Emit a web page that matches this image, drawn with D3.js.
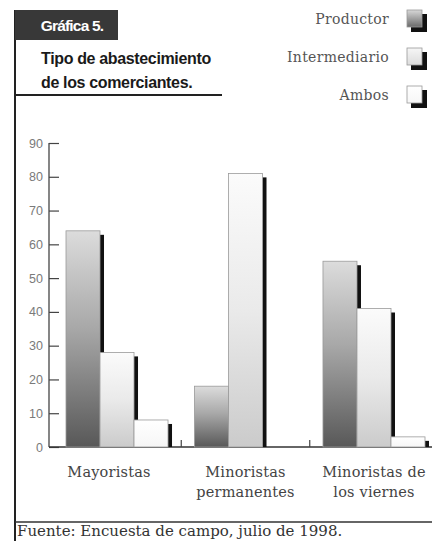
<!DOCTYPE html>
<html>
<head>
<meta charset="utf-8">
<script src="https://cdn.jsdelivr.net/npm/d3@7"></script>
<style>
  html, body { margin: 0; padding: 0; background: #fff; overflow: hidden; }
  svg { display: block; }
</style>
</head>
<body>
<script>
// Tipo de abastecimiento de los comerciantes (porcentaje)
const categories = ["Mayoristas", "Minoristas permanentes", "Minoristas de los viernes"];
const categoryLines = [["Mayoristas"], ["Minoristas", "permanentes"], ["Minoristas de", "los viernes"]];
const seriesNames = ["Productor", "Intermediario", "Ambos"];
const productor = [64, 18, 55];
const intermediario = [28, 81, 41];
const ambos = [8, 0, 3];
const yTicks = [0, 10, 20, 30, 40, 50, 60, 70, 80, 90];

const W = 432, H = 541;
const serif = "DejaVu Serif, Liberation Serif, serif";
const sans = "Liberation Sans, Arial, sans-serif";
const svg = d3.select("body").append("svg").attr("width", W).attr("height", H);

// gradients for the bar fills
const defs = svg.append("defs");
function grad(id, stops) {
  const g = defs.append("linearGradient").attr("id", id)
    .attr("x1", 0).attr("y1", 0).attr("x2", 0).attr("y2", 1);
  stops.forEach(s => g.append("stop").attr("offset", s[0]).attr("stop-color", s[1]));
}
grad("gProd", [[0, "#dcdcdc"], [0.45, "#a8a8a8"], [1, "#585858"]]);
grad("gInter", [[0, "#fbfbfb"], [0.5, "#eaeaea"], [1, "#cbcbcb"]]);
grad("gAmbos", [[0, "#ffffff"], [1, "#f6f6f6"]]);
grad("gLegProd", [[0, "#d8d8d8"], [1, "#6a6a6a"]]);
grad("gLegInter", [[0, "#f6f6f6"], [1, "#dcdcdc"]]);
const fills = ["url(#gProd)", "url(#gInter)", "url(#gAmbos)"];
const legFills = ["url(#gLegProd)", "url(#gLegInter)", "url(#gAmbos)"];

// frame lines
svg.append("line").attr("x1", 15).attr("x2", 15).attr("y1", 10).attr("y2", H)
  .attr("stroke", "#222").attr("stroke-width", 2);
svg.append("line").attr("x1", 15).attr("x2", 222).attr("y1", 95).attr("y2", 95)
  .attr("stroke", "#222").attr("stroke-width", 2);
svg.append("line").attr("x1", 15).attr("x2", W).attr("y1", 522).attr("y2", 522)
  .attr("stroke", "#333").attr("stroke-width", 1.5);

// title block
svg.append("rect").attr("x", 15).attr("y", 10).attr("width", 103).attr("height", 30)
  .attr("fill", "#383838");
svg.append("text").attr("x", 72).attr("y", 31).attr("text-anchor", "middle")
  .attr("font-family", sans).attr("font-weight", "bold")
  .attr("font-size", 15.5).attr("letter-spacing", -0.8).attr("fill", "#fff")
  .text("Gráfica 5.");
svg.append("text").attr("x", 41).attr("y", 64)
  .attr("font-family", sans).attr("font-weight", "bold")
  .attr("font-size", 16).attr("letter-spacing", -0.35).attr("fill", "#1a1a1a")
  .text("Tipo de abastecimiento");
svg.append("text").attr("x", 41).attr("y", 88)
  .attr("font-family", sans).attr("font-weight", "bold")
  .attr("font-size", 16).attr("letter-spacing", -0.35).attr("fill", "#1a1a1a")
  .text("de los comerciantes.");

// legend
const legY = [10, 48, 86];
seriesNames.forEach((name, i) => {
  const g = svg.append("g").attr("transform", `translate(0,${legY[i]})`);
  g.append("text").attr("x", 389).attr("y", 14).attr("text-anchor", "end")
    .attr("font-family", serif).attr("font-size", 14).attr("letter-spacing", 0.3)
    .attr("fill", "#555").text(name);
  g.append("rect").attr("x", 411).attr("y", 4).attr("width", 16).attr("height", 18).attr("fill", "#111");
  g.append("rect").attr("x", 407).attr("y", 0).attr("width", 15).attr("height", 17)
    .attr("fill", legFills[i]).attr("stroke", "#999").attr("stroke-width", 0.8);
});

// scales
const y = d3.scaleLinear().domain([0, 90]).range([447, 143]);
const x0 = d3.scaleBand().domain(categories).range([66, 425]).paddingInner(0.206).paddingOuter(0);
const x1 = d3.scaleBand().domain(seriesNames).range([0, x0.bandwidth()]);

// axis
const axis = d3.axisLeft(y).tickValues(yTicks).tickSize(-10).tickPadding(6);
const ag = svg.append("g").attr("transform", "translate(49,0)").call(axis);
ag.select(".domain").remove();
ag.selectAll(".tick line").attr("stroke", "#444").attr("stroke-width", 1.2);
ag.selectAll(".tick text").attr("font-family", sans)
  .attr("font-size", 12.5).attr("fill", "#7a7a7a").attr("x", -6);
svg.append("line").attr("x1", 49).attr("x2", 49).attr("y1", y(90)).attr("y2", y(0))
  .attr("stroke", "#444").attr("stroke-width", 1.3);
svg.append("line").attr("x1", 49).attr("x2", 432).attr("y1", y(0)).attr("y2", y(0))
  .attr("stroke", "#333").attr("stroke-width", 1.5);

// bars
const data = categories.map((c, i) => ({
  cat: c,
  vals: [productor[i], intermediario[i], ambos[i]]
}));
const groups = svg.selectAll(".grp").data(data).enter().append("g")
  .attr("transform", d => `translate(${x0(d.cat)},0)`);

groups.each(function(d) {
  const g = d3.select(this);
  d.vals.forEach((v, j) => {
    if (v <= 0) return;
    const bx = x1(seriesNames[j]);
    const bw = x1.bandwidth();
    // drop shadow on the right edge
    g.append("rect").attr("x", bx + bw).attr("y", y(v) + 4)
      .attr("width", 4).attr("height", y(0) - y(v) - 4).attr("fill", "#111");
    g.append("rect").attr("x", bx).attr("y", y(v))
      .attr("width", bw).attr("height", y(0) - y(v))
      .attr("fill", fills[j]).attr("stroke", "#9a9a9a").attr("stroke-width", 0.8);
  });
});

// small separator ticks between groups
categories.slice(0, -1).forEach((c, i) => {
  const xs = (x0(c) + x0.bandwidth() + x0(categories[i + 1])) / 2;
  svg.append("line").attr("x1", xs).attr("x2", xs).attr("y1", y(0)).attr("y2", y(0) - 7)
    .attr("stroke", "#444").attr("stroke-width", 1.2);
});

// category labels
categories.forEach((c, i) => {
  const cx = x0(c) + x0.bandwidth() / 2 - (i === 0 ? 8 : 0);
  categoryLines[i].forEach((line, k) => {
    svg.append("text").attr("x", cx).attr("y", 477 + k * 20).attr("text-anchor", "middle")
      .attr("font-family", serif).attr("font-size", 14.5).attr("fill", "#444")
      .attr("letter-spacing", 0.2).text(line);
  });
});

// source note
svg.append("text").attr("x", 17).attr("y", 536)
  .attr("font-family", serif).attr("font-size", 15).attr("fill", "#333")
  .text("Fuente: Encuesta de campo, julio de 1998.");
</script>
</body>
</html>
